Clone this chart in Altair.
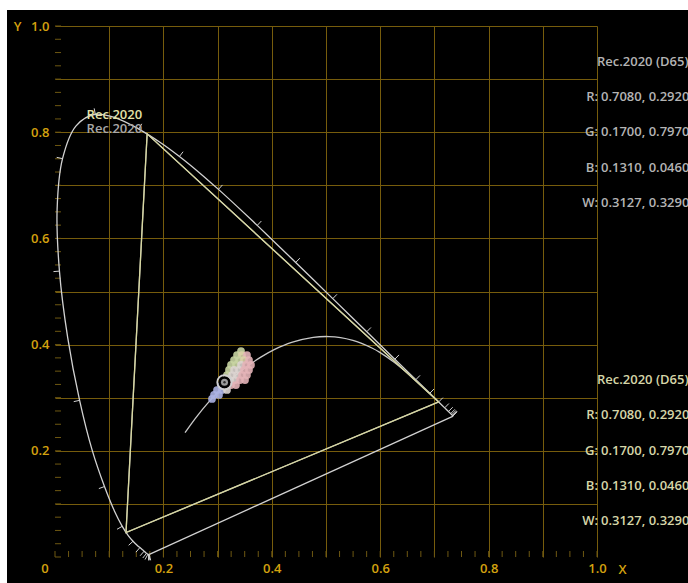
import altair as alt
import pandas as pd
import numpy as np

# ---------------- data ----------------
wavelengths = list(range(380, 705, 5))
locus_x = [0.1741, 0.1740, 0.1738, 0.1736, 0.1733, 0.1730, 0.1726, 0.1721, 0.1714,
           0.1703, 0.1689, 0.1669, 0.1644, 0.1611, 0.1566, 0.1510, 0.1440, 0.1355, 0.1241,
           0.1096, 0.0913, 0.0687, 0.0454, 0.0235, 0.0082, 0.0039, 0.0139, 0.0389, 0.0743,
           0.1142, 0.1547, 0.1929, 0.2296, 0.2658, 0.3016, 0.3373, 0.3731, 0.4087, 0.4441,
           0.4788, 0.5125, 0.5448, 0.5752, 0.6029, 0.6270, 0.6482, 0.6658, 0.6801, 0.6915,
           0.7006, 0.7079, 0.7140, 0.7190, 0.7230, 0.7260, 0.7283, 0.7300, 0.7311, 0.7320,
           0.7327, 0.7334, 0.7340, 0.7344, 0.7346, 0.7347]
locus_y = [0.0050, 0.0050, 0.0049, 0.0049, 0.0048, 0.0048, 0.0048, 0.0048, 0.0051,
           0.0058, 0.0069, 0.0086, 0.0109, 0.0138, 0.0177, 0.0227, 0.0297, 0.0399, 0.0578,
           0.0868, 0.1327, 0.2007, 0.2950, 0.4127, 0.5384, 0.6548, 0.7502, 0.8120, 0.8338,
           0.8262, 0.8059, 0.7816, 0.7543, 0.7243, 0.6923, 0.6589, 0.6245, 0.5896, 0.5547,
           0.5202, 0.4866, 0.4544, 0.4242, 0.3965, 0.3725, 0.3514, 0.3340, 0.3197, 0.3083,
           0.2993, 0.2920, 0.2859, 0.2809, 0.2770, 0.2740, 0.2717, 0.2700, 0.2689, 0.2680,
           0.2673, 0.2666, 0.2660, 0.2656, 0.2654, 0.2653]
tick_wavelengths = list(range(390, 700, 10))

primaries = ["R", "G", "B"]
rec2020_x = [0.708, 0.170, 0.131]
rec2020_y = [0.292, 0.797, 0.046]
white_x = [0.3127]
white_y = [0.3290]
gamut_label = "Rec.2020"

planck_T = ["1000K", "1200K", "1400K", "1500K", "1667K", "1800K", "2000K", "2200K", "2500K",
            "3000K", "3500K", "4000K", "4500K", "5000K", "5500K", "6000K", "6500K", "8000K",
            "10000K", "15000K", "25000K", "inf"]
planck_x = [0.6528, 0.6251, 0.5985, 0.5857, 0.5646, 0.5496, 0.5269, 0.5055, 0.4765,
            0.4366, 0.4053, 0.3805, 0.3607, 0.3450, 0.3323, 0.3220, 0.3135, 0.2952,
            0.2807, 0.2637, 0.2525, 0.2399]
planck_y = [0.3444, 0.3674, 0.3858, 0.3931, 0.4029, 0.4081, 0.4133, 0.4152, 0.4137,
            0.4042, 0.3909, 0.3768, 0.3635, 0.3516, 0.3411, 0.3318, 0.3236, 0.3048,
            0.2883, 0.2673, 0.2523, 0.2342]

blob_x = [0.3432,
          0.3358, 0.3450, 0.3542,
          0.3303, 0.3395, 0.3487, 0.3579,
          0.3247, 0.3339, 0.3432, 0.3524, 0.3616,
          0.3210, 0.3303, 0.3395, 0.3487, 0.3579,
          0.3173, 0.3266, 0.3358, 0.3450, 0.3542,
          0.3137, 0.3229, 0.3321, 0.3413, 0.3506,
          0.3063, 0.3155, 0.3247, 0.3339,
          0.2989, 0.3081, 0.3173,
          0.2934, 0.3026,
          0.2897]
blob_y = [0.3879,
          0.3804, 0.3804, 0.3804,
          0.3710, 0.3710, 0.3710, 0.3710,
          0.3616, 0.3616, 0.3616, 0.3616, 0.3616,
          0.3522, 0.3522, 0.3522, 0.3522, 0.3522,
          0.3427, 0.3427, 0.3427, 0.3427, 0.3427,
          0.3333, 0.3333, 0.3333, 0.3333, 0.3333,
          0.3239, 0.3239, 0.3239, 0.3239,
          0.3145, 0.3145, 0.3145,
          0.3051, 0.3051,
          0.2976]
blob_tone = ["G",
             "G", "Y", "P",
             "G", "G", "Y", "P",
             "G", "G", "W", "P", "P",
             "G", "W", "W", "P", "P",
             "G", "W", "W", "P", "P",
             "W", "W", "W", "P", "P",
             "L", "W", "P", "P",
             "L", "L", "W",
             "L", "L",
             "L"]

panel_title = "Rec.2020 (D65)"
panel_keys = ["R:", "G:", "B:", "W:"]
panel_vals = ["0.7080, 0.2920", "0.1700, 0.7970", "0.1310, 0.0460", "0.3127, 0.3290"]

grid_values = [0.1, 0.2, 0.3, 0.4, 0.5, 0.6, 0.7, 0.8, 0.9, 1.0]
minor_ticks = [round(i * 0.025, 3) for i in range(41)]
origin_label = "0"

# ---------------- style ----------------
W, H = 542, 531
FONT = "Open Sans"
GOLD = "#d4a20f"
GRID = "#765c0c"
TICK = "#6e5812"
LOCUS = "#d2d2d2"
PLANCK = "#c8c8c8"
YEL = "#d8d8a0"
GRAY_T = "#a8a8a8"
PANEL1 = "#b4b4b4"
PANEL2 = "#d6d6a8"
tone_domain = ["G", "Y", "P", "W", "L"]
tone_range = ["#c8d4a2", "#dcd2a8", "#e4b4b8", "#dcd4d0", "#acb2e2"]

xs = alt.Scale(domain=[0, 1], nice=False, zero=False)
ys = alt.Scale(domain=[0, 1], nice=False, zero=False)
label_expr = "round(datum.value*10) % 2 == 0 ? format(datum.value, '.1f') : ''"
xaxis = alt.Axis(values=grid_values, grid=True, gridColor=GRID, gridWidth=1, gridOpacity=1,
                 domain=False, ticks=False, labelExpr=label_expr, labelColor=GOLD,
                 labelFont=FONT, labelFontSize=13, labelFontWeight=600, labelPadding=11,
                 labelBaseline="middle", labelAlign="center", labelFlush=False,
                 labelOverlap=False, title="X", titleColor=GOLD, titleFont=FONT,
                 titleFontSize=13, titleFontWeight=600, titleX=567, titleY=12,
                 titleAlign="center", titleBaseline="middle", titleAngle=0)
yaxis = alt.Axis(values=grid_values, grid=True, gridColor=GRID, gridWidth=1, gridOpacity=1,
                 domain=False, ticks=False, labelExpr=label_expr, labelColor=GOLD,
                 labelFont=FONT, labelFontSize=13, labelFontWeight=600, labelPadding=6,
                 labelBaseline="middle", labelAlign="right", labelFlush=False,
                 labelOverlap=False, title="Y", titleColor=GOLD, titleFont=FONT,
                 titleFontSize=13, titleFontWeight=600, titleX=-38, titleY=0,
                 titleAlign="center", titleBaseline="middle", titleAngle=0)


def X(f):
    return alt.X(f, type="quantitative", scale=xs, axis=xaxis)


def Y(f):
    return alt.Y(f, type="quantitative", scale=ys, axis=yaxis)


# ---------------- tables ----------------
n = len(wavelengths)
locus_df = pd.DataFrame({"x": locus_x, "y": locus_y, "i": list(range(n))})
purple_df = pd.DataFrame({"x": [locus_x[0], locus_x[-1]], "y": [locus_y[0], locus_y[-1]],
                          "i": [0, 1]})

lx = np.array(locus_x)
ly = np.array(locus_y)
tick_len = 6.0
rows = []
for wl in tick_wavelengths:
    k = wavelengths.index(wl)
    tx = (lx[k + 1] - lx[k - 1]) * W
    ty = (ly[k + 1] - ly[k - 1]) * H
    norm = np.hypot(tx, ty)
    nx, ny = -ty / norm, tx / norm
    rows.append({"x": lx[k], "y": ly[k],
                 "x2": lx[k] + nx * tick_len / W, "y2": ly[k] + ny * tick_len / H})
ltick_df = pd.DataFrame(rows)

planck_df = pd.DataFrame({"x": planck_x, "y": planck_y, "i": list(range(len(planck_x)))})
tri_df = pd.DataFrame({"x": rec2020_x + [rec2020_x[0]], "y": rec2020_y + [rec2020_y[0]],
                       "i": [0, 1, 2, 3]})
blob_df = pd.DataFrame({"x": blob_x, "y": blob_y, "tone": blob_tone})
wp_df = pd.DataFrame({"x": white_x, "y": white_y})
g_idx = primaries.index("G")
glabel_df = pd.DataFrame({"x": [rec2020_x[g_idx]], "y": [rec2020_y[g_idx]], "t": [gamut_label]})
minor_df = pd.DataFrame({"v": minor_ticks})
origin_df = pd.DataFrame({"x": [0.0], "y": [0.0], "t": [origin_label]})


def panel_df(top, step):
    return pd.DataFrame({"k": panel_keys, "v": panel_vals,
                         "py": [top + step * (i + 1) for i in range(len(panel_keys))]})


one = pd.DataFrame({"a": [0]})

# ---------------- layers ----------------
layers = []
# white page margin strips (outside the black panel)
layers.append(alt.Chart(one).mark_rect(color="white").encode(
    x=alt.value(-55), x2=alt.value(688 - 55), y=alt.value(-26), y2=alt.value(10 - 26)))
layers.append(alt.Chart(one).mark_rect(color="white").encode(
    x=alt.value(-55), x2=alt.value(7 - 55), y=alt.value(-26), y2=alt.value(583 - 26)))

layers.append(alt.Chart(minor_df).mark_rule(color=TICK, strokeWidth=1).encode(
    x=X("v"), y=alt.value(H), y2=alt.value(H - 6)))
layers.append(alt.Chart(minor_df).mark_rule(color=TICK, strokeWidth=1).encode(
    y=Y("v"), x=alt.value(0), x2=alt.value(6)))

layers.append(alt.Chart(locus_df).mark_line(color=LOCUS, strokeWidth=1.3,
                                            interpolate="catmull-rom").encode(
    x=X("x"), y=Y("y"), order="i:Q"))
layers.append(alt.Chart(purple_df).mark_line(color=LOCUS, strokeWidth=1.3).encode(
    x=X("x"), y=Y("y"), order="i:Q"))
layers.append(alt.Chart(ltick_df).mark_rule(color=LOCUS, strokeWidth=1).encode(
    x=X("x"), y=Y("y"), x2="x2:Q", y2="y2:Q"))
layers.append(alt.Chart(planck_df).mark_line(color=PLANCK, strokeWidth=1.3,
                                             interpolate="catmull-rom").encode(
    x=X("x"), y=Y("y"), order="i:Q"))
layers.append(alt.Chart(tri_df).mark_line(color=GRAY_T, strokeWidth=1.3).encode(
    x=X("x"), y=Y("y"), order="i:Q"))
layers.append(alt.Chart(tri_df).mark_line(color=YEL, strokeWidth=1.3).encode(
    x=X("x"), y=Y("y"), order="i:Q"))

layers.append(alt.Chart(blob_df).mark_circle(size=60, opacity=0.9, strokeWidth=0).encode(
    x=X("x"), y=Y("y"),
    color=alt.Color("tone:N", scale=alt.Scale(domain=tone_domain, range=tone_range),
                    legend=None)))

layers.append(alt.Chart(wp_df).mark_point(shape="circle", filled=True, color="black",
                                          size=150, opacity=1).encode(x=X("x"), y=Y("y")))
layers.append(alt.Chart(wp_df).mark_point(shape="circle", filled=False, color="#d0d0d0",
                                          size=210, strokeWidth=1.8, opacity=1).encode(
    x=X("x"), y=Y("y")))
layers.append(alt.Chart(wp_df).mark_point(shape="circle", filled=True, color="#9a9a9a",
                                          size=50, opacity=1).encode(x=X("x"), y=Y("y")))
layers.append(alt.Chart(wp_df).mark_point(shape="circle", filled=True, color="#303030",
                                          size=6, opacity=1).encode(x=X("x"), y=Y("y")))

layers.append(alt.Chart(glabel_df).mark_text(align="right", baseline="alphabetic", dx=-5,
                                             dy=-15, font=FONT, fontSize=13, fontWeight=600,
                                             color="#e2e2a8").encode(
    x=X("x"), y=Y("y"), text="t:N"))
layers.append(alt.Chart(glabel_df).mark_text(align="right", baseline="alphabetic", dx=-5,
                                             dy=-1, font=FONT, fontSize=13, fontWeight=600,
                                             color=GRAY_T).encode(
    x=X("x"), y=Y("y"), text="t:N"))

layers.append(alt.Chart(origin_df).mark_text(align="center", baseline="middle", dx=-10,
                                             dy=12, font=FONT, fontSize=13, fontWeight=600,
                                             color=GOLD).encode(
    x=X("x"), y=Y("y"), text="t:N"))

STEP = 35.3
for top, col in [(35.7, PANEL1), (354.0, PANEL2)]:
    tdf = pd.DataFrame({"t": [panel_title], "py": [top]})
    layers.append(alt.Chart(tdf).mark_text(align="left", baseline="middle", font=FONT,
                                           fontSize=13, fontWeight=600, color=col).encode(
        x=alt.value(542), y=alt.Y("py:Q", scale=None, axis=None), text="t:N"))
    pdf = panel_df(top, STEP)
    layers.append(alt.Chart(pdf).mark_text(align="right", baseline="middle", font=FONT,
                                           fontSize=13, fontWeight=600, color=col).encode(
        x=alt.value(543), y=alt.Y("py:Q", scale=None, axis=None), text="k:N"))
    layers.append(alt.Chart(pdf).mark_text(align="left", baseline="middle", font=FONT,
                                           fontSize=13, fontWeight=600, color=col).encode(
        x=alt.value(546), y=alt.Y("py:Q", scale=None, axis=None), text="v:N"))

chart = alt.layer(*layers).properties(
    width=W, height=H,
    padding={"left": 55, "top": 26, "right": 91, "bottom": 26},
    autosize=alt.AutoSizeParams(type="none"),
    background="black",
).configure_view(stroke=None)

chart.save("out.html", embed_options={"renderer": "svg", "actions": False})
